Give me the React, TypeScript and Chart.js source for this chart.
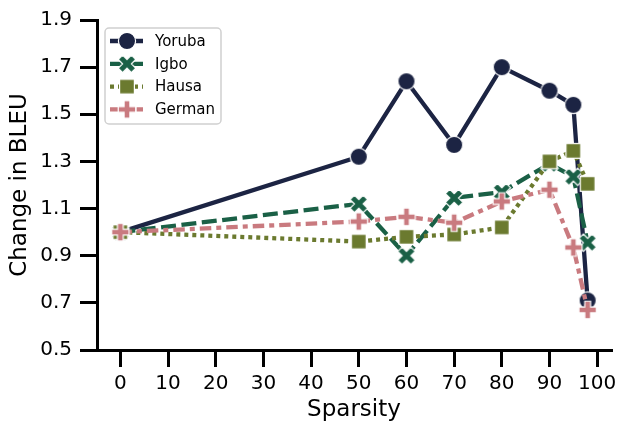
import React, { useEffect, useRef } from "react";
import { Chart, registerables } from "chart.js";
Chart.register(...registerables);

const sparsity = [0, 50, 60, 70, 80, 90, 95, 98];
const yoruba = [1.0, 1.32, 1.64, 1.37, 1.7, 1.6, 1.54, 0.71];
const igbo = [1.0, 1.12, 0.9, 1.145, 1.17, 1.29, 1.235, 0.955];
const hausa = [1.0, 0.96, 0.98, 0.99, 1.02, 1.3, 1.345, 1.205];
const german = [1.0, 1.045, 1.065, 1.04, 1.13, 1.18, 0.935, 0.67];
const seriesNames = ["Yoruba", "Igbo", "Hausa", "German"];
const xTicks = [0, 10, 20, 30, 40, 50, 60, 70, 80, 90, 100];
const yTicks = [0.5, 0.7, 0.9, 1.1, 1.3, 1.5, 1.7, 1.9];

const colors = ["#1c2443", "#1a6046", "#6b7a2f", "#c97a7f"];
const dashes: number[][] = [[], [15, 5.5], [4, 4], [11.5, 5, 5, 5]];
const markers = ["circle", "x", "square", "plus"];
const FONT = "'DejaVu Sans', sans-serif";
const LW = 4.3;

function makeMarker(kind: string, color: string): HTMLCanvasElement {
  const S = 17.5;
  const c = document.createElement("canvas");
  const W = 24;
  c.width = W;
  c.height = W;
  const ctx = c.getContext("2d")!;
  ctx.translate(W / 2, W / 2);
  ctx.beginPath();
  if (kind === "circle") {
    ctx.arc(0, 0, 8.6, 0, Math.PI * 2);
  } else if (kind === "square") {
    const h = 7.4;
    ctx.rect(-h, -h, 2 * h, 2 * h);
  } else {
    let pts: number[][];
    let div: number;
    if (kind === "x") {
      pts = [[-1, -2], [0, -1], [1, -2], [2, -1], [1, 0], [2, 1], [1, 2], [0, 1], [-1, 2], [-2, 1], [-1, 0], [-2, -1]];
      div = 4;
    } else {
      pts = [[-1, -3], [1, -3], [1, -1], [3, -1], [3, 1], [1, 1], [1, 3], [-1, 3], [-1, 1], [-3, 1], [-3, -1], [-1, -1]];
      div = 6;
    }
    pts.forEach((p, i) => {
      const x = (p[0] / div) * S;
      const y = (p[1] / div) * S;
      if (i === 0) ctx.moveTo(x, y);
      else ctx.lineTo(x, y);
    });
    ctx.closePath();
  }
  ctx.fillStyle = color;
  ctx.fill();
  ctx.lineWidth = 1.2;
  ctx.strokeStyle = "#ffffff";
  ctx.lineJoin = "miter";
  ctx.stroke();
  return c;
}

export default function App() {
  const ref = useRef<HTMLCanvasElement>(null);
  useEffect(() => {
    const series = [yoruba, igbo, hausa, german];
    const imgs = markers.map((m, i) => makeMarker(m, colors[i]));
    const legendPlugin = {
      id: "customLegend",
      afterDraw(chart: any) {
        const ctx = chart.ctx;
        const ca = chart.chartArea;
        const bx = ca.left + 8;
        const by = ca.top + 8;
        const bw = 116;
        const bh = 96;
        ctx.save();
        ctx.beginPath();
        ctx.roundRect(bx, by, bw, bh, 4);
        ctx.fillStyle = "rgba(255,255,255,0.8)";
        ctx.fill();
        ctx.lineWidth = 1.5;
        ctx.strokeStyle = "#d0d0d0";
        ctx.stroke();
        seriesNames.forEach((name, i) => {
          const y = by + 13 + i * 22.8;
          ctx.beginPath();
          ctx.setLineDash(dashes[i]);
          ctx.lineWidth = LW;
          ctx.strokeStyle = colors[i];
          ctx.lineCap = "butt";
          ctx.moveTo(bx + 5, y);
          ctx.lineTo(bx + 38, y);
          ctx.stroke();
          ctx.setLineDash([]);
          const im = imgs[i];
          ctx.drawImage(im, bx + 22 - im.width / 2, y - im.height / 2);
          ctx.fillStyle = "#000";
          ctx.font = `15px ${FONT}`;
          ctx.textBaseline = "middle";
          ctx.textAlign = "left";
          ctx.fillText(name, bx + 50, y + 1);
        });
        ctx.restore();
      },
    };
    const chart = new Chart(ref.current!, {
      type: "line",
      data: {
        datasets: series.map((vals, i) => ({
          label: seriesNames[i],
          data: sparsity.map((x, j) => ({ x, y: vals[j] })),
          borderColor: colors[i],
          backgroundColor: colors[i],
          borderWidth: LW,
          borderDash: dashes[i],
          borderCapStyle: i === 0 ? "round" : "butt",
          borderJoinStyle: "round",
          pointStyle: imgs[i],
          pointRadius: 8,
          tension: 0,
          fill: false,
          clip: false as any,
          order: 3 - i,
        })),
      },
      options: {
        animation: false,
        responsive: true,
        maintainAspectRatio: false,
        layout: { padding: { top: 18, right: 15, left: 0, bottom: 0 } },
        plugins: { legend: { display: false }, tooltip: { enabled: false } },
        scales: {
          x: {
            type: "linear",
            min: -4.9,
            max: 102.9,
            afterBuildTicks: (s: any) => {
              s.ticks = xTicks.map((v) => ({ value: v }));
            },
            afterFit: (s: any) => {
              s.height = 84;
            },
            ticks: {
              color: "#000",
              font: { family: FONT, size: 20 },
              padding: 5,
              maxRotation: 0,
              autoSkip: false,
              callback: (v: any) => String(v),
            },
            grid: {
              drawOnChartArea: false,
              drawTicks: true,
              tickLength: 17,
              tickWidth: 3,
              tickColor: "#000",
              lineWidth: 3,
              color: "#000",
            },
            border: { display: true, color: "#000", width: 3 },
            title: {
              display: true,
              text: "Sparsity",
              color: "#000",
              font: { family: FONT, size: 23 },
              padding: { top: 0, bottom: 10 },
            },
          },
          y: {
            type: "linear",
            min: 0.5,
            max: 1.9,
            afterBuildTicks: (s: any) => {
              s.ticks = yTicks.map((v) => ({ value: v }));
            },
            afterFit: (s: any) => {
              s.width = 97;
            },
            ticks: {
              color: "#000",
              font: { family: FONT, size: 20 },
              padding: 8,
              autoSkip: false,
              callback: (v: any) => Number(v).toFixed(1),
            },
            grid: {
              drawOnChartArea: false,
              drawTicks: true,
              tickLength: 17,
              tickWidth: 3,
              tickColor: "#000",
              lineWidth: 3,
              color: "#000",
            },
            border: { display: true, color: "#000", width: 3 },
            title: {
              display: true,
              text: "Change in BLEU",
              color: "#000",
              font: { family: FONT, size: 23 },
              padding: { top: 6, bottom: 0 },
            },
          },
        },
      },
      plugins: [legendPlugin],
    } as any);
    return () => chart.destroy();
  }, []);
  return (
    <div style={{ position: "fixed", left: 0, top: 0, width: 626, height: 434 }}>
      <canvas ref={ref} />
    </div>
  );
}
